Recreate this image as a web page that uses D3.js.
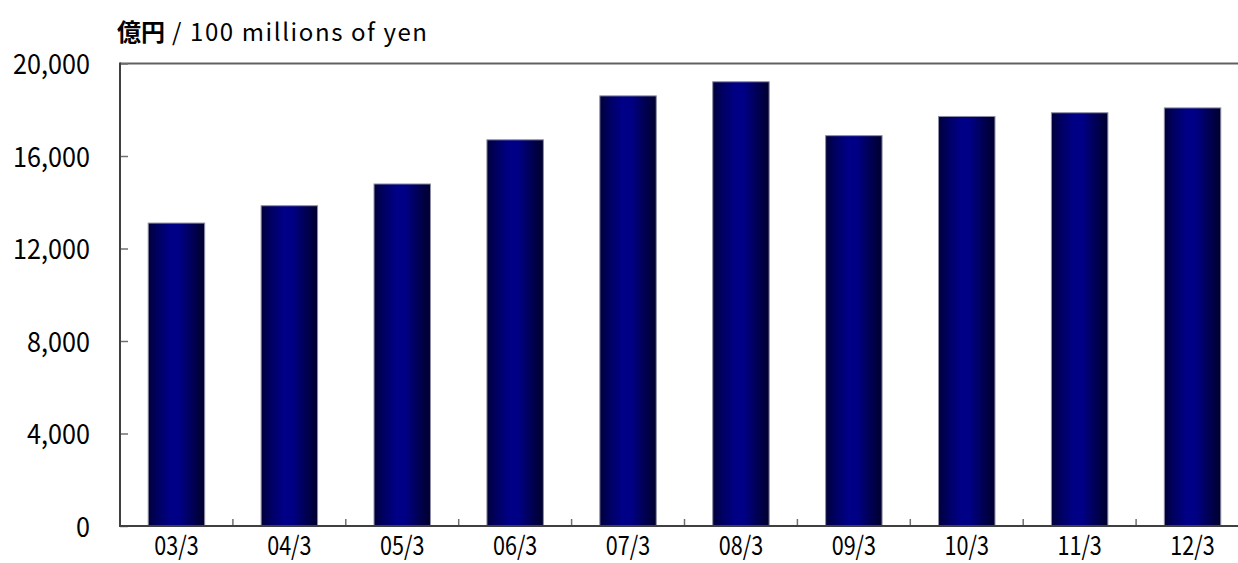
<!DOCTYPE html>
<html>
<head>
<meta charset="utf-8">
<script src="https://cdn.jsdelivr.net/npm/d3@7"></script>
<style>
  body { margin: 0; background: #fff; }
  svg { display: block; }
</style>
</head>
<body>
<div id="chart"></div>
<script>
// fiscal year ends (March)
let categories = ["03/3", "04/3", "05/3", "06/3", "07/3", "08/3", "09/3", "10/3", "11/3", "12/3"];
let values = [13100, 13850, 14790, 16700, 18600, 19210, 16880, 17710, 17870, 18080];
let yTicks = [0, 4000, 8000, 12000, 16000, 20000];

let chartW = 1238, chartH = 563;
let plotLeft = 120, plotTop = 63.5, plotBottom = 526, plotRight = 1249;
let font = "'Noto Sans CJK JP', 'Noto Sans', sans-serif";
let ySqueeze = 0.9, xSqueeze = 0.83; // narrow gothic digits

let svg = d3.select("#chart").append("svg")
	.attr("width", chartW)
	.attr("height", chartH);

let grad = svg.append("defs").append("linearGradient")
	.attr("id", "barGrad")
	.attr("x1", "0%").attr("x2", "100%")
	.attr("y1", "0%").attr("y2", "0%");
[["0%", "#00003a"], ["15%", "#00005e"], ["40%", "#000088"], ["55%", "#000086"], ["80%", "#000052"], ["100%", "#00002e"]]
	.forEach(function(s) {
		grad.append("stop").attr("offset", s[0]).attr("stop-color", s[1]);
	});

// plot runs past the right edge of the picture (cropped box)
let x = d3.scaleBand()
	.domain(categories)
	.range([plotLeft, plotRight])
	.paddingInner(0.5)
	.paddingOuter(0.25);

let y = d3.scaleLinear()
	.domain([0, 20000])
	.range([plotBottom, plotTop]);

let data = categories.map(function(c, i) { return {cat: c, value: values[i]}; });

// top border of plot box
svg.append("line")
	.attr("x1", plotLeft).attr("x2", plotRight)
	.attr("y1", y(20000)).attr("y2", y(20000))
	.attr("stroke", "#606060")
	.attr("stroke-width", 2);

svg.selectAll(".bar")
	.data(data)
	.enter().append("rect")
	.attr("class", "bar")
	.attr("x", function(d) { return x(d.cat); })
	.attr("y", function(d) { return y(d.value); })
	.attr("width", x.bandwidth())
	.attr("height", function(d) { return y(0) - y(d.value); })
	.style("fill", "url(#barGrad)")
	.style("stroke", "#8e8ea6")
	.style("stroke-width", 1);

// y axis, ticks pointing inward
let yAxis = svg.append("g")
	.attr("transform", "translate(" + plotLeft + ",0)")
	.call(d3.axisRight(y).tickValues(yTicks).tickSize(8).tickFormat(d3.format(",")));
yAxis.select(".domain").remove();
yAxis.selectAll(".tick line").attr("stroke", "#707070").attr("stroke-width", 1.5);
yAxis.selectAll("text")
	.attr("text-anchor", "end")
	.attr("x", -30 / ySqueeze)
	.attr("dy", "0.36em")
	.attr("transform", "scale(" + ySqueeze + ",1)")
	.style("font-family", font)
	.style("font-size", "28px")
	.attr("fill", "#000");

// x axis labels
let xAxis = svg.append("g")
	.attr("transform", "translate(0," + plotBottom + ")")
	.call(d3.axisBottom(x).tickSize(0).tickPadding(0));
xAxis.select(".domain").remove();
xAxis.selectAll("text")
	.attr("transform", "scale(" + xSqueeze + ",1)")
	.attr("x", 0)
	.attr("y", 29)
	.attr("dy", 0)
	.style("font-family", font)
	.style("font-size", "26px")
	.attr("fill", "#000");

// category separators, pointing up from the base
svg.selectAll(".sep")
	.data(d3.range(1, categories.length))
	.enter().append("line")
	.attr("class", "sep")
	.attr("x1", function(i) { return plotLeft + i * x.step(); })
	.attr("x2", function(i) { return plotLeft + i * x.step(); })
	.attr("y1", plotBottom)
	.attr("y2", plotBottom - 7)
	.attr("stroke", "#707070")
	.attr("stroke-width", 1.5);

// axis lines
svg.append("line")
	.attr("x1", plotLeft).attr("x2", plotLeft)
	.attr("y1", y(20000) - 1).attr("y2", plotBottom)
	.attr("stroke", "#404040").attr("stroke-width", 2);
svg.append("line")
	.attr("x1", plotLeft - 1).attr("x2", plotRight)
	.attr("y1", plotBottom).attr("y2", plotBottom)
	.attr("stroke", "#404040").attr("stroke-width", 2);

// unit title
let title = svg.append("text")
	.attr("x", 117)
	.attr("y", 41)
	.style("font-family", font)
	.style("font-size", "24px")
	.attr("fill", "#000");
title.append("tspan").style("font-weight", "bold").text("億円");
title.append("tspan").style("letter-spacing", "1.6px").text(" / 100 millions of yen");
</script>
</body>
</html>
